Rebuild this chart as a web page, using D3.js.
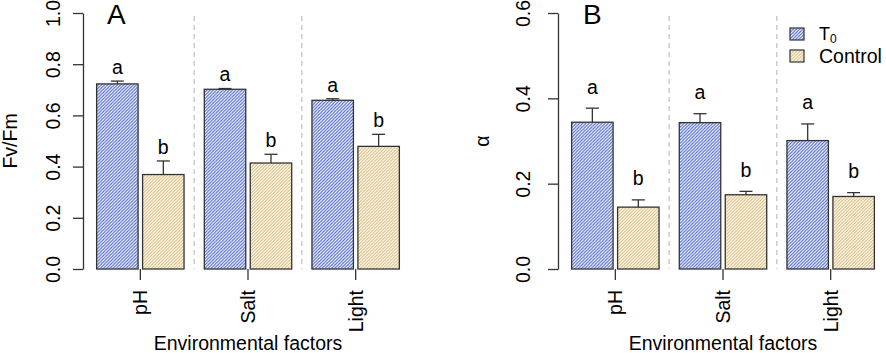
<!DOCTYPE html>
<html><head><meta charset="utf-8">
<script src="https://cdn.jsdelivr.net/npm/d3@7"></script>
<style>body{margin:0;background:#fff}svg{display:block;font-family:"Liberation Sans",Arial,sans-serif}</style>
</head><body><svg id="c" width="886" height="353"></svg>
<script>
// ---- data ----
const categories = ["pH", "Salt", "Light"];
const series = ["T0", "Control"];
const fvfmT0 = [0.723, 0.702, 0.659];
const fvfmT0Se = [0.011, 0.003, 0.006];
const fvfmCtrl = [0.369, 0.414, 0.479];
const fvfmCtrlSe = [0.053, 0.034, 0.047];
const alphaT0 = [0.344, 0.343, 0.301];
const alphaT0Se = [0.033, 0.021, 0.039];
const alphaCtrl = [0.145, 0.174, 0.170];
const alphaCtrlSe = [0.017, 0.008, 0.009];
const lettersT0 = ["a", "a", "a"];
const lettersCtrl = ["b", "b", "b"];
const ticksA = [0, 0.2, 0.4, 0.6, 0.8, 1.0];
const ticksB = [0, 0.2, 0.4, 0.6];

const FS = 19.5;
const svg = d3.select("#c");
const colors = {T0: "#4a64c8", Control: "#d9bb78"};
const defs = svg.append("defs");
const P = 3.2;
series.forEach(s => {
  const p = defs.append("pattern").attr("id", "hatch" + s).attr("patternUnits", "userSpaceOnUse")
    .attr("width", P).attr("height", P);
  p.append("rect").attr("width", P).attr("height", P).attr("fill", "#fff");
  p.append("path").attr("d", `M0,${P} L${P},0 M${-P/2},${P/2} L${P/2},${-P/2} M${P/2},${P*1.5} L${P*1.5},${P/2}`)
    .attr("stroke", colors[s]).attr("stroke-width", 1.1);
});

function panel(cfg) {
  const g = svg.append("g");
  const y = d3.scaleLinear().domain([0, cfg.ymax]).range([269, 13]);
  const x0 = d3.scaleBand().domain(categories).range(cfg.xr).paddingInner(0.188).paddingOuter(0.094);
  const x1 = d3.scaleBand().domain(series).range([0, x0.bandwidth()]).paddingInner(0.098);
  const rows = categories.map((c, i) => ({c, vals: [
    {s: "T0", v: cfg.t0[i], se: cfg.t0se[i], l: lettersT0[i]},
    {s: "Control", v: cfg.ct[i], se: cfg.ctse[i], l: lettersCtrl[i]}]}));

  const gap = x0.step() - x0.bandwidth();
  categories.slice(1).forEach(c => {
    const xx = x0(c) - gap / 2;
    g.append("line").attr("x1", xx).attr("x2", xx).attr("y1", y(cfg.ymax) + 3).attr("y2", 269)
      .attr("stroke", "#c4c4c4").attr("stroke-width", 1.3).attr("stroke-dasharray", "5,4");
  });

  rows.forEach(r => {
    const gg = g.append("g").attr("transform", `translate(${x0(r.c)},0)`);
    r.vals.forEach(d => {
      const bx = x1(d.s), bw = x1.bandwidth(), cx = bx + bw / 2;
      gg.append("rect").attr("x", bx).attr("y", y(d.v)).attr("width", bw).attr("height", y(0) - y(d.v))
        .attr("fill", `url(#hatch${d.s})`).attr("stroke", "#333").attr("stroke-width", 1.3);
      gg.append("line").attr("x1", cx).attr("x2", cx).attr("y1", y(d.v)).attr("y2", y(d.v + d.se))
        .attr("stroke", "#333").attr("stroke-width", 1.3);
      gg.append("line").attr("x1", cx - 6.5).attr("x2", cx + 6.5).attr("y1", y(d.v + d.se)).attr("y2", y(d.v + d.se))
        .attr("stroke", "#333").attr("stroke-width", 1.3);
      gg.append("text").attr("x", cx).attr("y", y(d.v + d.se + cfg.loff)).attr("text-anchor", "middle")
        .attr("font-size", FS).attr("fill", "#000").text(d.l);
    });
  });

  const ax = cfg.xr[0] - 3.5;
  const ya = g.append("g").attr("transform", `translate(${ax},0)`)
    .call(d3.axisLeft(y).tickValues(cfg.ticks).tickFormat(d3.format(".1f")).tickSize(10).tickSizeOuter(0));
  ya.select(".domain").attr("stroke", "#333").attr("stroke-width", 1.3);
  ya.selectAll(".tick line").attr("stroke", "#333").attr("stroke-width", 1.3);
  ya.selectAll(".tick text").attr("font-size", FS).attr("fill", "#000").attr("font-family", null)
    .attr("text-anchor", "middle").attr("x", null)
    .attr("transform", `translate(${-cfg.tlOff},0) rotate(-90)`).attr("dy", "0.35em");

  categories.forEach(c => {
    const cx = x0(c) + x0.bandwidth() / 2;
    g.append("line").attr("x1", cx).attr("x2", cx).attr("y1", 269).attr("y2", 280)
      .attr("stroke", "#333").attr("stroke-width", 1.3);
    g.append("text").attr("transform", `translate(${cx + 7},290) rotate(-90)`).attr("text-anchor", "end")
      .attr("font-size", FS).attr("fill", "#000").text(c);
  });

  const mid = (cfg.xr[0] + cfg.xr[1]) / 2;
  g.append("text").attr("x", mid).attr("y", 350).attr("text-anchor", "middle").attr("font-size", FS).text("Environmental factors");
  g.append("text").attr("transform", `translate(${cfg.ylabX},141) rotate(-90)`).attr("text-anchor", "middle")
    .attr("font-size", FS).text(cfg.ylab);
  g.append("text").attr("x", cfg.pxL).attr("y", 24).attr("font-size", 28).text(cfg.panel);
}

panel({xr: [86.5, 409.5], ymax: 1.0, ticks: ticksA, t0: fvfmT0, t0se: fvfmT0Se, ct: fvfmCtrl, ctse: fvfmCtrlSe,
  loff: 0.028, tlOff: 30, ylabX: 17, ylab: "Fv/Fm", panel: "A", pxL: 107});
panel({xr: [561.5, 884.5], ymax: 0.6, ticks: ticksB, t0: alphaT0, t0se: alphaT0Se, ct: alphaCtrl, ctse: alphaCtrlSe,
  loff: 0.034, tlOff: 35, ylabX: 489, ylab: "α", panel: "B", pxL: 583});

const lg = svg.append("g");
const legY = [28, 50];
series.forEach((s, i) => {
  lg.append("rect").attr("x", 790).attr("y", legY[i]).attr("width", 14).attr("height", 12)
    .attr("fill", `url(#hatch${s})`).attr("stroke", "#333").attr("stroke-width", 1.2);
});
const t0 = lg.append("text").attr("x", 819).attr("y", legY[0] + 12).attr("font-size", 18);
t0.append("tspan").text("T");
t0.append("tspan").attr("dy", 2.5).attr("font-size", 12).text("0");
lg.append("text").attr("x", 819).attr("y", legY[1] + 13).attr("font-size", FS).text("Control");
</script></body></html>
